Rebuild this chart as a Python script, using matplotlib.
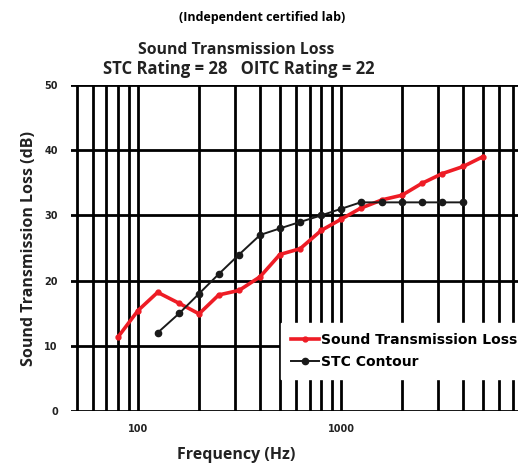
import numpy as np
import matplotlib.pyplot as plt
from matplotlib.ticker import FixedLocator, FixedFormatter

# 1/3 octave band data
freq_tl = [80, 100, 125, 160, 200, 250, 315, 400, 500, 630, 800, 1000,
           1250, 1600, 2000, 2500, 3150, 4000, 5000]
tl = [11.4, 15.4, 18.2, 16.5, 14.9, 17.8, 18.5, 20.6, 24.0, 24.9, 27.7, 29.4,
      31.1, 32.4, 33.1, 34.9, 36.4, 37.5, 39.0]

freq_stc = [125, 160, 200, 250, 315, 400, 500, 630, 800, 1000, 1250,
            1600, 2000, 2500, 3150, 4000]
stc = [12, 15, 18, 21, 24, 27, 28, 29, 30, 31, 32, 32, 32, 32, 32, 32]

grid_freqs = [50, 60, 70, 80, 90, 100, 200, 300, 400, 500, 600, 700, 800, 900,
              1000, 2000, 3000, 4000, 5000, 6000, 7000]
y_ticks = [0, 10, 20, 30, 40, 50]

fig = plt.figure(figsize=(5.18, 4.66), dpi=100)
ax = fig.add_axes([71 / 518, 55 / 466, 447 / 518, 326 / 466])

ax.plot(freq_tl, tl, color='#ee1c25', lw=2.6, marker='o', ms=3.5,
        label='Sound Transmission Loss', zorder=4)
ax.plot(freq_stc, stc, color='#1a1a1a', lw=1.4, marker='o', ms=4.5,
        label='STC Contour', zorder=5)

ax.set_xscale('log')
ax.set_xlim(46.8, 7450)
ax.set_ylim(0, 50)

ax.xaxis.set_major_locator(FixedLocator(grid_freqs))
ax.xaxis.set_minor_locator(FixedLocator([]))
ax.xaxis.set_major_formatter(FixedFormatter(
    ['100' if f == 100 else '1000' if f == 1000 else '' for f in grid_freqs]))
ax.yaxis.set_major_locator(FixedLocator(y_ticks))
ax.grid(True, color='black', lw=2.0)
ax.tick_params(axis='both', length=0, labelsize=7)
ax.tick_params(axis='x', pad=9)
ax.tick_params(axis='y', pad=9.5)
for lab in ax.get_xticklabels() + ax.get_yticklabels():
    lab.set_fontweight('bold')
    lab.set_color('#222222')
for s in ax.spines.values():
    s.set_visible(False)

ax.set_ylabel('Sound Transmission Loss (dB)', fontsize=11.5, fontweight='bold',
              family='Open Sans', color='#222222', labelpad=5)
fig.text(236 / 518, 1 - 455 / 466, 'Frequency (Hz)', ha='center', va='center',
         fontsize=11.5, fontweight='bold', family='Open Sans', color='#222222')

fig.text(262 / 518, 1 - 18 / 466, '(Independent certified lab)', ha='center',
         va='center', fontsize=9, fontweight='bold', family='Open Sans')
fig.text(236 / 518, 1 - 50 / 466, 'Sound Transmission Loss', ha='center',
         va='center', fontsize=11.3, fontweight='bold', family='Open Sans',
         color='#222222')
fig.text(239 / 518, 1 - 69 / 466, 'STC Rating = 28   OITC Rating = 22',
         ha='center', va='center', fontsize=12, fontweight='bold',
         family='Open Sans', color='#222222')

leg = ax.legend(loc='upper left', bbox_to_anchor=(281 / 518, 1 - 323 / 466),
                bbox_transform=fig.transFigure, frameon=True, fancybox=False,
                edgecolor='white', facecolor='white', framealpha=1,
                prop={'size': 10, 'weight': 'bold'}, handlelength=2.0,
                handletextpad=0.2, borderpad=0.7, labelspacing=0.6,
                borderaxespad=0)
leg.set_zorder(10)

fig.savefig('out.png', dpi=100)
